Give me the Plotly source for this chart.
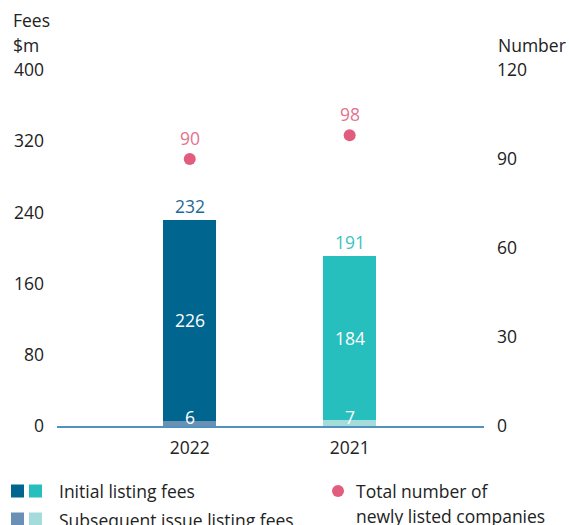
import plotly.graph_objects as go

# ---- data ----
years = ["2022", "2021"]
initial_fees = [226, 184]
subsequent_fees = [6, 7]
total_fees = [232, 191]
new_companies = [90, 98]
left_ticks = [0, 80, 160, 240, 320, 400]
right_ticks = [0, 30, 60, 90, 120]

# ---- style ----
W, H = 569, 525
ML, MR, MT, MB = 57, 85, 70, 99
PW, PH = W - ML - MR, H - MT - MB
FONT = "Open Sans"
FS = 17.5
TXT = "#222222"
initial_colors = ["#00658F", "#27BEBE"]
subsequent_colors = ["#6B90B5", "#A3DCDA"]
total_colors = ["#1E6A99", "#3CC3C3"]
pink = "#E25C7E"
pink_text = "#E5728D"


def px(x):
    return (x - ML) / PW


def py(y):
    return 1 - (y - MT) / PH


fig = go.Figure()
fig.add_trace(go.Bar(x=years, y=subsequent_fees, marker=dict(color=subsequent_colors, line=dict(width=0)),
                     width=0.33, showlegend=False, hoverinfo="skip"))
fig.add_trace(go.Bar(x=years, y=initial_fees, marker=dict(color=initial_colors, line=dict(width=0)),
                     width=0.33, showlegend=False, hoverinfo="skip"))
fig.add_trace(go.Scatter(x=years, y=new_companies, yaxis="y2", mode="markers",
                         marker=dict(color=pink, size=12), showlegend=False, hoverinfo="skip"))

ann = []
for i, yr in enumerate(years):
    # inside labels (x given as category index)
    ann.append(dict(x=i, y=subsequent_fees[i] + initial_fees[i] / 2, text=str(initial_fees[i]),
                    showarrow=False, font=dict(color="white", size=FS, family=FONT)))
    ann.append(dict(x=i, y=0, yanchor="bottom", yshift=-5, text=str(subsequent_fees[i]),
                    showarrow=False, font=dict(color="white", size=FS, family=FONT)))
    # totals
    ann.append(dict(x=i, y=total_fees[i], yanchor="bottom", yshift=0, text=str(total_fees[i]),
                    showarrow=False, font=dict(color=total_colors[i], size=FS, family=FONT)))
    # company count
    ann.append(dict(x=i, y=new_companies[i], yref="y2", yanchor="bottom", yshift=7,
                    text=str(new_companies[i]), showarrow=False,
                    font=dict(color=pink_text, size=FS, family=FONT)))

# axis titles
for txt, x, y in [("Fees", 11, 20), ("$m", 11, 45), ("Number", 496, 45)]:
    ann.append(dict(xref="paper", yref="paper", x=px(x), y=py(y), xanchor="left", yanchor="middle",
                    text=txt, showarrow=False, font=dict(size=FS, color=TXT, family=FONT)))

# legend
shapes = []
sq = 13
for (x0, c) in [(11, initial_colors[0]), (29, initial_colors[1])]:
    shapes.append(dict(type="rect", xref="paper", yref="paper", x0=px(x0), x1=px(x0 + sq),
                       y0=py(491 + sq / 2), y1=py(491 - sq / 2), fillcolor=c, line=dict(width=0)))
for (x0, c) in [(11, subsequent_colors[0]), (29, subsequent_colors[1])]:
    shapes.append(dict(type="rect", xref="paper", yref="paper", x0=px(x0), x1=px(x0 + sq),
                       y0=py(519 + sq / 2), y1=py(519 - sq / 2), fillcolor=c, line=dict(width=0)))
shapes.append(dict(type="circle", xref="paper", yref="paper", x0=px(332), x1=px(344),
                   y0=py(497), y1=py(485), fillcolor=pink, line=dict(width=0)))
for txt, x, y in [("Initial listing fees", 57, 491), ("Subsequent issue listing fees", 57, 520),
                  ("Total number of", 354, 491), ("newly listed companies", 354, 516)]:
    ann.append(dict(xref="paper", yref="paper", x=px(x), y=py(y), xanchor="left", yanchor="middle",
                    text=txt, showarrow=False, font=dict(size=FS, color=TXT, family=FONT)))

fig.update_layout(
    width=W, height=H, margin=dict(l=ML, r=MR, t=MT, b=MB),
    paper_bgcolor="white", plot_bgcolor="white",
    barmode="stack", bargap=0,
    font=dict(family=FONT, size=FS, color=TXT),
    xaxis=dict(type="category", range=[-0.83, 1.84], showline=True, linecolor="#4E92BD", linewidth=1.5,
               showgrid=False, ticks="", tickfont=dict(size=FS, color=TXT), ticklabelstandoff=5),
    yaxis=dict(range=[0, 400], tickvals=left_ticks, showgrid=False, zeroline=False, showline=False,
               ticks="", ticklabelstandoff=12, tickfont=dict(size=FS, color=TXT)),
    yaxis2=dict(range=[0, 120], tickvals=right_ticks, overlaying="y", side="right", showgrid=False,
                zeroline=False, showline=False, ticks="", ticklabelstandoff=12,
                tickfont=dict(size=FS, color=TXT)),
    annotations=ann, shapes=shapes, showlegend=False,
)

fig.write_html("out.html", config={"displayModeBar": False},
               post_script="document.body.style.margin='0';document.body.style.overflow='hidden';")
